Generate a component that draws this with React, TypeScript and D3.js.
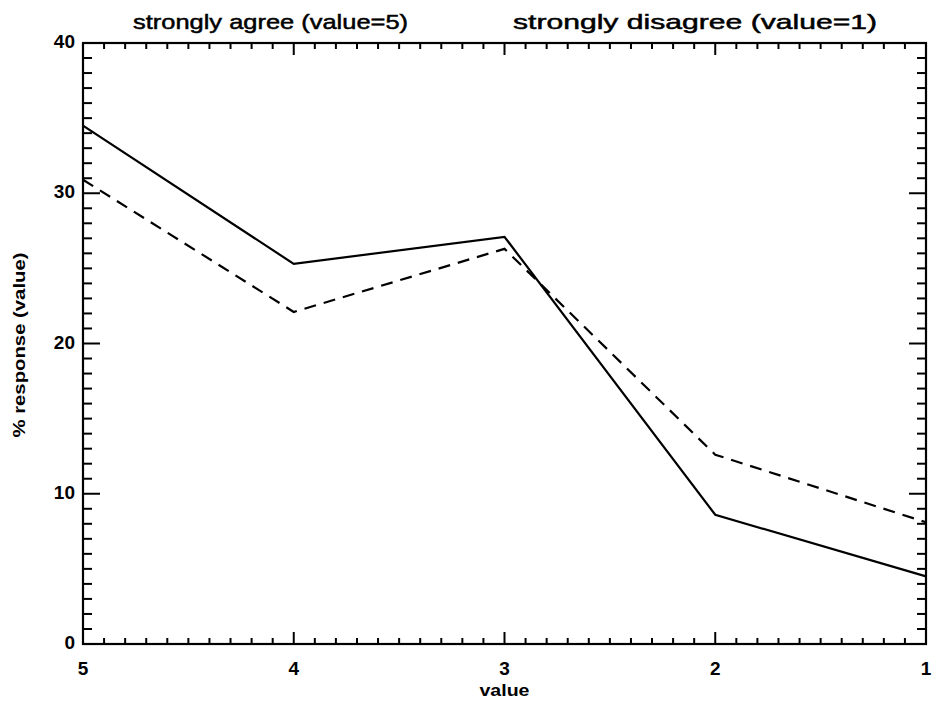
import React from "react";
import * as d3 from "d3";

const categories = [5, 4, 3, 2, 1];
const solidValues = [34.5, 25.3, 27.1, 8.6, 4.5];
const dashedValues = [30.9, 22.1, 26.3, 12.6, 8.1];
const yTicks = [0, 10, 20, 30, 40];
const titleLeft = "strongly agree (value=5)";
const titleRight = "strongly disagree (value=1)";
const xLabel = "value";
const yLabel = "% response (value)";

const W = 935;
const H = 708;
const left = 83;
const right = 926;
const top = 43;
const bottom = 644;

export default function App() {
  const x = d3.scaleLinear().domain([5, 1]).range([left, right]);
  const y = d3.scaleLinear().domain([0, 40]).range([bottom, top]);
  const line = d3
    .line<number>()
    .x((_, i) => x(categories[i]))
    .y((d) => y(d));

  const xMinor = d3.range(50, 9, -1).map((v) => v / 10).filter((v) => !categories.includes(v));
  const yMinor = d3.range(0, 41).filter((v) => !yTicks.includes(v));
  const xMajLen = 12;
  const xMinLen = 6;
  const yMajLen = 17;
  const yMinLen = 9;
  const font = "'Liberation Sans', Arial, sans-serif";

  return (
    <svg
      width={W}
      height={H}
      style={{ position: "absolute", left: 0, top: 0, background: "#fff" }}
    >
      <rect x={0} y={0} width={W} height={H} fill="#fff" />
      <g stroke="#000" fill="none">
        <rect x={left} y={top} width={right - left} height={bottom - top} strokeWidth={2.2} />
        {categories.map((c) => (
          <g key={"xm" + c}>
            <line x1={x(c)} x2={x(c)} y1={bottom} y2={bottom - xMajLen} strokeWidth={2} />
            <line x1={x(c)} x2={x(c)} y1={top} y2={top + xMajLen} strokeWidth={2} />
          </g>
        ))}
        {xMinor.map((c) => (
          <g key={"xn" + c}>
            <line x1={x(c)} x2={x(c)} y1={bottom} y2={bottom - xMinLen} strokeWidth={2} />
            <line x1={x(c)} x2={x(c)} y1={top} y2={top + xMinLen} strokeWidth={2} />
          </g>
        ))}
        {yTicks.map((v) => (
          <g key={"ym" + v}>
            <line x1={left} x2={left + yMajLen} y1={y(v)} y2={y(v)} strokeWidth={2} />
            <line x1={right} x2={right - yMajLen} y1={y(v)} y2={y(v)} strokeWidth={2} />
          </g>
        ))}
        {yMinor.map((v) => (
          <g key={"yn" + v}>
            <line x1={left} x2={left + yMinLen} y1={y(v)} y2={y(v)} strokeWidth={2} />
            <line x1={right} x2={right - yMinLen} y1={y(v)} y2={y(v)} strokeWidth={2} />
          </g>
        ))}
        <path d={line(solidValues) || ""} strokeWidth={2.2} />
        <path d={line(dashedValues) || ""} strokeWidth={2.2} strokeDasharray="12,8" />
      </g>
      <g fill="#000" fontFamily={font} fontWeight="bold">
        {yTicks.map((v) => (
          <text key={"yl" + v} x={left - 8} y={y(v)} fontSize={19} textAnchor="end" dominantBaseline="middle">
            {v}
          </text>
        ))}
        {categories.map((c) => (
          <text key={"xl" + c} x={x(c)} y={670} fontSize={19} textAnchor="middle" dominantBaseline="middle">
            {c}
          </text>
        ))}
        <text x={(left + right) / 2} y={692} fontSize={17} textAnchor="middle" dominantBaseline="middle"
          textLength={50} lengthAdjust="spacingAndGlyphs">
          {xLabel}
        </text>
        <text
          transform={`translate(21, ${345}) rotate(-90)`}
          fontSize={17}
          textAnchor="middle"
          dominantBaseline="middle"
          textLength={185}
          lengthAdjust="spacingAndGlyphs"
        >
          {yLabel}
        </text>
      </g>
      <g fill="#000" stroke="#000" strokeWidth={0.5} fontFamily={font} fontSize={21}>
        <text x={133} y={29} textLength={275} lengthAdjust="spacingAndGlyphs">
          {titleLeft}
        </text>
        <text x={513} y={29} textLength={364} lengthAdjust="spacingAndGlyphs">
          {titleRight}
        </text>
      </g>
    </svg>
  );
}
